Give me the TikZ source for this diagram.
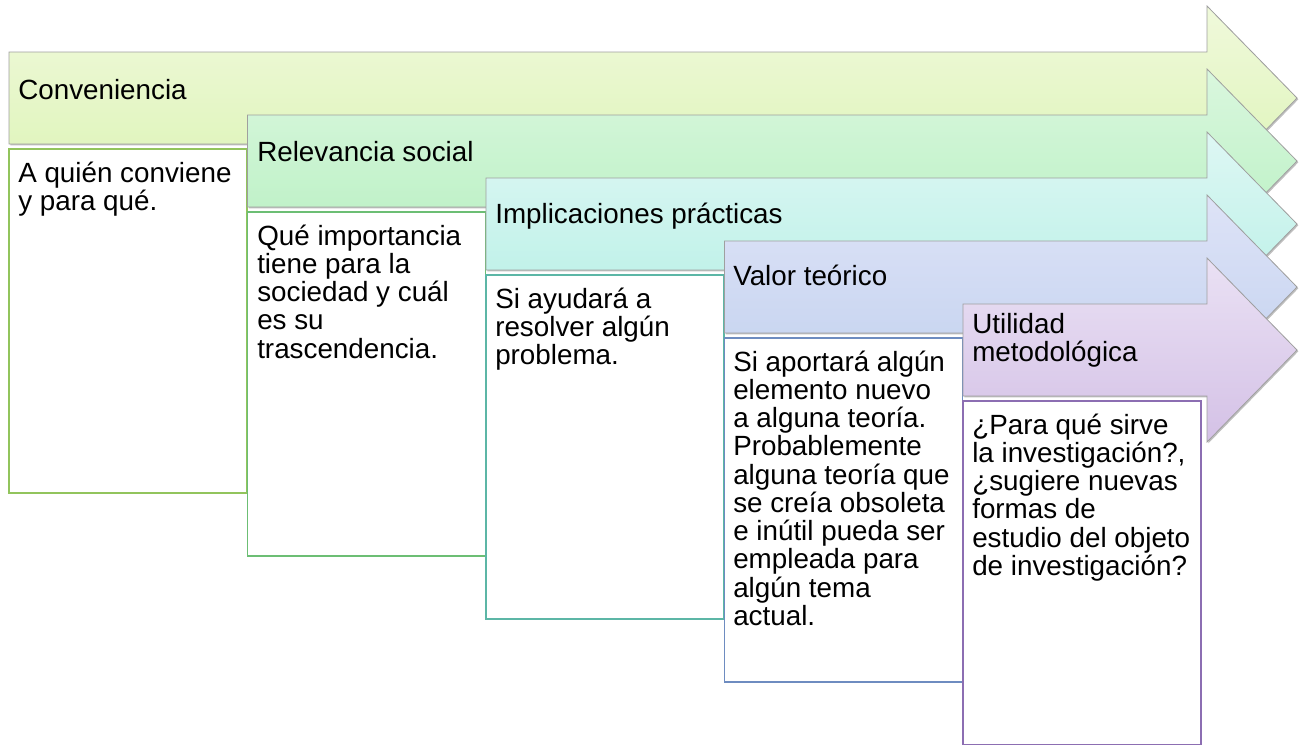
\documentclass[tikz,border=0pt]{standalone}
\usepackage{fontspec}
\setmainfont{Liberation Sans}
\usetikzlibrary{shadows}
\definecolor{s1t}{RGB}{240,249,219}
\definecolor{s1b}{RGB}{220,244,182}
\definecolor{s1l}{RGB}{146,196,92}
\definecolor{s2t}{RGB}{218,247,222}
\definecolor{s2b}{RGB}{184,240,194}
\definecolor{s2l}{RGB}{108,190,116}
\definecolor{s3t}{RGB}{222,247,244}
\definecolor{s3b}{RGB}{184,240,230}
\definecolor{s3l}{RGB}{92,182,166}
\definecolor{s4t}{RGB}{222,227,247}
\definecolor{s4b}{RGB}{195,210,239}
\definecolor{s4l}{RGB}{110,140,192}
\definecolor{s5t}{RGB}{234,225,244}
\definecolor{s5b}{RGB}{212,193,230}
\definecolor{s5l}{RGB}{140,110,178}
\tikzset{
  procarrow/.style={draw=gray!75, line width=0.6pt,
    drop shadow={shadow xshift=1pt, shadow yshift=-1pt, opacity=0.25, fill=black}},
  descbox/.style={fill=white, line width=0.9pt},
  steptext/.style={anchor=base west, inner sep=0pt,
    font=\fontsize{20.85pt}{21.2pt}\selectfont},
}
\newcommand{\txtblock}[1]{\parbox[t]{300pt}{\raggedright #1}}

\begin{document}
\begin{tikzpicture}[x=0.75pt,y=-0.75pt]
\useasboundingbox (0,0) rectangle (1299,744);
% arrows with their description boxes
\foreach \i/\ct/\cb/\cl in {0/s1t/s1b/s1l,1/s2t/s2b/s2l,2/s3t/s3b/s3l,3/s4t/s4b/s4l,4/s5t/s5b/s5l}{
  \pgfmathsetmacro{\xl}{9+238.5*\i}
  \pgfmathsetmacro{\yt}{52+63*\i}
  \pgfmathsetmacro{\yb}{\yt+92}
  \pgfmathsetmacro{\yc}{\yt+46}
  \draw[procarrow, top color=\ct, bottom color=\cb]
    (\xl,\yt) -- (1207,\yt) -- (1207,\yc-92) -- (1297,\yc)
    -- (1207,\yc+92) -- (1207,\yb) -- (\xl,\yb) -- cycle;
  \draw[descbox, draw=\cl] (\xl,\yb+5) rectangle ++(238,344);
}
% headings
\node[steptext] (h1) at (18,99) {\txtblock{Conveniencia}};
\node[steptext] (h2) at (257,161) {\txtblock{Relevancia social}};
\node[steptext] (h3) at (495,223) {\txtblock{Implicaciones prácticas}};
\node[steptext] (h4) at (733,285) {\txtblock{Valor teórico}};
\node[steptext] (h5) at (972,333) {\txtblock{Utilidad\\metodológica}};
% descriptions
\node[steptext] (d1) at (18,182) {\txtblock{A quién conviene\\y para qué.}};
\node[steptext] (d2) at (257,245) {\txtblock{Qué importancia\\tiene para la\\sociedad y cuál\\es su\\trascendencia.}};
\node[steptext] (d3) at (495,308) {\txtblock{Si ayudará a\\resolver algún\\problema.}};
\node[steptext] (d4) at (733,371) {\txtblock{Si aportará algún\\elemento nuevo\\a alguna teoría.\\Probablemente\\alguna teoría que\\se creía obsoleta\\e inútil pueda ser\\empleada para\\algún tema\\actual.}};
\node[steptext] (d5) at (972,434) {\txtblock{¿Para qué sirve\\la investigación?,\\¿sugiere nuevas\\formas de\\estudio del objeto\\de investigación?}};
\end{tikzpicture}
\end{document}
